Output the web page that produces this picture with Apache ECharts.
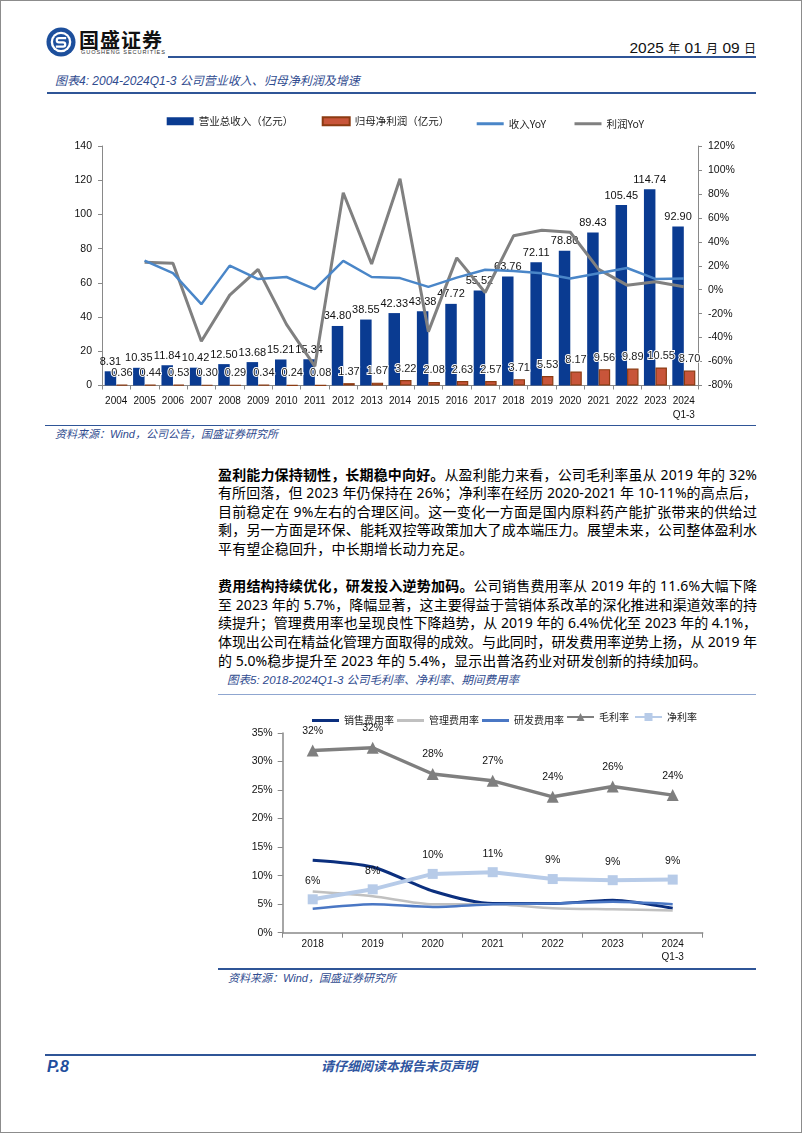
<!DOCTYPE html>
<html>
<head>
<meta charset="utf-8">
<script src="https://cdn.jsdelivr.net/npm/echarts@6/dist/echarts.min.js"></script>
<style>
  html,body{margin:0;padding:0;background:#fff;}
  #page{position:relative;width:802px;height:1133px;overflow:hidden;font-family:"Noto Sans CJK SC","Noto Sans",sans-serif;}
  .abs{position:absolute;}
  .bline{position:absolute;background:#2f5597;}
  .cap{position:absolute;font-style:italic;color:#2f4b8f;white-space:nowrap;font-family:"Liberation Sans","Noto Sans CJK SC",sans-serif;}
  .body{position:absolute;left:218px;width:539px;font-size:14px;line-height:18.6px;color:#000;font-family:"Noto Sans","Noto Sans CJK SC",sans-serif;}
  .body .ln{display:block;height:18.6px;white-space:nowrap;}
  .body b{font-weight:700;}
</style>
</head>
<body>
<div id="page">
  <div class="abs" style="left:0;top:0;width:800px;height:1131px;border:1px solid #8c8c8c;"></div>

  <!-- header -->
  <svg class="abs" style="left:46px;top:27px" width="30" height="30" viewBox="0 0 32 32">
    <circle cx="16" cy="16" r="15.5" fill="#1d4f9c"/>
    <circle cx="16" cy="16" r="11" fill="#fff"/>
    <circle cx="16" cy="16" r="8.5" fill="#1d4f9c"/>
    <path d="M21.5 11.8 H13.8 a2.3 2.3 0 0 0 0 4.6 h4.4 a2.3 2.3 0 0 1 0 4.6 H10.5" stroke="#fff" stroke-width="2.4" fill="none"/>
  </svg>
  <div class="abs" style="left:79px;top:28px;font-size:20px;line-height:24px;font-weight:700;color:#111;letter-spacing:1px;white-space:nowrap;">国盛证券</div>
  <div class="abs" style="left:81px;top:49px;font-size:5.6px;line-height:7px;color:#333;letter-spacing:0.9px;white-space:nowrap;font-family:'Liberation Sans',sans-serif;">GUOSHENG SECURITIES</div>
  <div class="bline" style="left:168px;top:56px;width:588px;height:2px;"></div>
  <div class="abs" style="right:46px;top:38px;line-height:20px;white-space:nowrap;color:#111;font-family:'Liberation Sans',sans-serif;font-size:15.5px;">2025 <span style="font-family:'Noto Sans CJK SC';font-size:12px;">年</span> 01 <span style="font-family:'Noto Sans CJK SC';font-size:12px;">月</span> 09 <span style="font-family:'Noto Sans CJK SC';font-size:12px;">日</span></div>

  <!-- chart 1 caption -->
  <div class="cap" style="left:55px;top:73px;font-size:12px;line-height:16px;">图表4:  2004-2024Q1-3 公司营业收入、归母净利润及增速</div>
  <div class="bline" style="left:47px;top:91.5px;width:709px;height:2px;"></div>
  <div id="c1" class="abs" style="left:0;top:100px;width:802px;height:322px;"></div>
  <div class="bline" style="left:45px;top:424.5px;width:711px;height:1.5px;"></div>
  <div class="cap" style="left:55px;top:427px;font-size:11px;line-height:14px;">资料来源：Wind，公司公告，国盛证券研究所</div>

  <!-- body text -->
  <div class="body" style="top:465.7px;">
    <span class="ln"><b>盈利能力保持韧性，长期稳中向好。</b>从盈利能力来看，公司毛利率虽从 2019 年的 32%</span>
    <span class="ln">有所回落，但 2023 年仍保持在 26%；净利率在经历 2020-2021 年 10-11%的高点后，</span>
    <span class="ln">目前稳定在 9%左右的合理区间。这一变化一方面是国内原料药产能扩张带来的供给过</span>
    <span class="ln">剩，另一方面是环保、能耗双控等政策加大了成本端压力。展望未来，公司整体盈利水</span>
    <span class="ln last">平有望企稳回升，中长期增长动力充足。</span>
  </div>
  <div class="body" style="top:577.3px;">
    <span class="ln"><b>费用结构持续优化，研发投入逆势加码。</b>公司销售费用率从 2019 年的 11.6%大幅下降</span>
    <span class="ln">至 2023 年的 5.7%，降幅显著，这主要得益于营销体系改革的深化推进和渠道效率的持</span>
    <span class="ln">续提升；管理费用率也呈现良性下降趋势，从 2019 年的 6.4%优化至 2023 年的 4.1%，</span>
    <span class="ln">体现出公司在精益化管理方面取得的成效。与此同时，研发费用率逆势上扬，从 2019 年</span>
    <span class="ln last">的 5.0%稳步提升至 2023 年的 5.4%，显示出普洛药业对研发创新的持续加码。</span>
  </div>

  <!-- chart 2 caption -->
  <div class="cap" style="left:227px;top:673px;font-size:11.5px;line-height:15px;">图表5:  2018-2024Q1-3 公司毛利率、净利率、期间费用率</div>
  <div class="bline" style="left:218px;top:693.5px;width:538px;height:1.5px;background:#8fa6d0;"></div>
  <div id="c2" class="abs" style="left:0;top:700px;width:802px;height:266px;"></div>
  <div class="bline" style="left:218px;top:968px;width:538px;height:1.5px;"></div>
  <div class="cap" style="left:228px;top:971px;font-size:11px;line-height:14px;">资料来源：Wind，国盛证券研究所</div>

  <!-- footer -->
  <div class="bline" style="left:45px;top:1054px;width:711px;height:2px;"></div>
  <div class="abs" style="left:47px;top:1057px;font-size:16px;line-height:20px;font-weight:700;font-style:italic;color:#1f4e9d;font-family:'Liberation Sans',sans-serif;">P.8</div>
  <div class="cap" style="left:0;width:798px;text-align:center;top:1058px;font-size:13px;line-height:17px;font-weight:600;color:#2f55a0;">请仔细阅读本报告末页声明</div>
</div>

<script>
// justify body lines by letter-spacing so each line fills the column exactly
(function(){
  var W = 539;
  document.querySelectorAll('.body').forEach(function(par){
    var lines = par.querySelectorAll('.ln'), sum = 0, n = 0;
    lines.forEach(function(ln){
      if (ln.classList.contains('last')) return;
      var len = Array.from(ln.textContent).length;
      ln.style.letterSpacing = '0px';
      var w = ln.scrollWidth;
      var r = document.createRange(); r.selectNodeContents(ln);
      w = r.getBoundingClientRect().width;
      var sp = (W - w) / (len - 1);
      ln.style.letterSpacing = sp + 'px';
      sum += sp; n++;
    });
    lines.forEach(function(ln){
      if (ln.classList.contains('last')) ln.style.letterSpacing = (n ? sum / n : 0) + 'px';
    });
  });
})();

// ---------- chart 1 data ----------
var years = ['2004','2005','2006','2007','2008','2009','2010','2011','2012','2013','2014','2015','2016','2017','2018','2019','2020','2021','2022','2023','2024\nQ1-3'];
var revenue = [8.31,10.35,11.84,10.42,12.50,13.68,15.21,15.34,34.80,38.55,42.33,43.38,47.72,55.52,63.76,72.11,78.80,89.43,105.45,114.74,92.90];
var profit = [0.36,0.44,0.53,0.30,0.29,0.34,0.24,0.08,1.37,1.67,3.22,2.08,2.63,2.57,3.71,5.53,8.17,9.56,9.89,10.55,8.70];
var revenueYoY = [null,24.2,13.8,-12.1,20.1,8.9,10.6,0.4,24.0,10.6,9.7,2.4,10.1,16.7,15.6,13.7,9.3,13.7,18.1,9.0,9.3];
var profitYoY = [null,23.0,22.0,-43.0,-4.5,17.0,-29.0,-64.0,81.0,21.5,92.6,-35.0,26.6,-2.3,45.0,49.7,48.0,17.0,3.8,6.7,2.4];
var leftTicks = {min:0, max:140, interval:20};
var rightTicks = {min:-80, max:120, interval:20};

// ---------- chart 2 data ----------
var years2 = ['2018','2019','2020','2021','2022','2023','2024\nQ1-3'];
var salesRate = [12.7,11.5,7.3,5.1,5.1,5.7,4.3];
var adminRate = [7.2,6.4,5.0,5.0,4.3,4.1,3.9];
var rdRate = [4.2,5.0,4.5,5.0,5.1,5.4,5.0];
var grossMargin = [31.9,32.4,27.8,26.6,23.8,25.6,24.1];
var netMargin = [5.85,7.6,10.3,10.6,9.4,9.2,9.3];
var pctTicks = {min:0, max:35, interval:5};

var NUM = '"Liberation Sans", Arial, sans-serif';
var CJK = '"Noto Sans CJK SC", sans-serif';
var axisGray = '#898989';

var c1 = echarts.init(document.getElementById('c1'), null, {renderer:'canvas'});
function lg(name, left, opt){
  return Object.assign({
    data:[name], left:left, top:11, itemWidth:27, itemHeight:8, icon:'rect',
    textStyle:{fontSize:10.5, color:'#222', fontFamily:CJK}
  }, opt||{});
}
c1.setOption({
  animation:false,
  legend:[
    lg('营业总收入（亿元）', 161.7),
    lg('归母净利润（亿元）', 316.7),
    lg('收入YoY', 471.7, {itemHeight:3, top:13.5}),
    lg('利润YoY', 569.5, {itemHeight:3, top:13.5})
  ],
  grid:{left:102, top:46, width:596, height:243.6},
  xAxis:{
    type:'category', data:years,
    axisLine:{lineStyle:{color:axisGray, width:1}},
    axisTick:{show:true, length:4, lineStyle:{color:axisGray}},
    axisLabel:{interval:0, fontSize:10, color:'#111', margin:8.5, lineHeight:14, fontFamily:NUM}
  },
  yAxis:[
    {type:'value', min:leftTicks.min, max:leftTicks.max, interval:leftTicks.interval,
     axisLine:{show:true, lineStyle:{color:axisGray}}, axisTick:{show:true, length:4, lineStyle:{color:axisGray}},
     splitLine:{show:false}, axisLabel:{fontSize:10.5, color:'#111', margin:10, fontFamily:NUM}},
    {type:'value', position:'right', min:rightTicks.min, max:rightTicks.max, interval:rightTicks.interval,
     axisLine:{show:true, lineStyle:{color:axisGray}}, axisTick:{show:true, length:4, lineStyle:{color:axisGray}},
     splitLine:{show:false}, axisLabel:{fontSize:10.5, color:'#111', margin:10, fontFamily:NUM, formatter:'{value}%'}}
  ],
  series:[
    {name:'营业总收入（亿元）', type:'bar', data:revenue, barGap:'0%', barCategoryGap:'19%',
     itemStyle:{color:'#0a3b91'},
     label:{show:true, position:'top', distance:4, fontSize:11, color:'#111', fontFamily:NUM,
            formatter:function(p){return p.value.toFixed(2);}}},
    {name:'归母净利润（亿元）', type:'bar', data:profit,
     itemStyle:{color:'#c8553a', borderColor:'#8c3b12', borderWidth:1.2},
     label:{show:true, position:'top', distance:6, fontSize:11, color:'#222', fontFamily:NUM,
            textBorderColor:'#fff', textBorderWidth:2,
            formatter:function(p){return p.value.toFixed(2);}}},
    {name:'收入YoY', type:'line', yAxisIndex:1, data:revenueYoY, symbol:'none', z:5,
     itemStyle:{color:'#4a86c8'}, lineStyle:{color:'#4a86c8', width:2.5}},
    {name:'利润YoY', type:'line', yAxisIndex:1, data:profitYoY, symbol:'none', z:4,
     itemStyle:{color:'#808080'}, lineStyle:{color:'#808080', width:3}}
  ]
});

var c2 = echarts.init(document.getElementById('c2'), null, {renderer:'canvas'});
function lg2(name, left, opt){
  return Object.assign({data:[name], left:left, top:7, itemWidth:27, itemHeight:10,
          textStyle:{fontSize:10, color:'#222', fontFamily:CJK}}, opt||{});
}
var pctLabel = {show:true, position:'top', distance:8, fontSize:10.5, color:'#111', fontFamily:NUM,
                formatter:function(p){return Math.round(p.value)+'%';}};
c2.setOption({
  animation:false,
  legend:[
    lg2('销售费用率',307,{icon:'rect', itemHeight:3, top:10.5}),
    lg2('管理费用率',392,{icon:'rect', itemHeight:3, top:10.5}),
    lg2('研发费用率',477,{icon:'rect', itemHeight:3, top:10.5}),
    lg2('毛利率',561),
    lg2('净利率',629)
  ],
  grid:{left:282.7, top:32.9, width:420, height:199.8},
  xAxis:{
    type:'category', data:years2,
    axisLine:{lineStyle:{color:axisGray, width:1.5}},
    axisTick:{show:true, length:5, lineStyle:{color:axisGray}},
    axisLabel:{interval:0, fontSize:10, color:'#111', margin:5.5, lineHeight:12.5, fontFamily:NUM}
  },
  yAxis:{type:'value', min:pctTicks.min, max:pctTicks.max, interval:pctTicks.interval,
    axisLine:{show:true, lineStyle:{color:axisGray, width:1.5}}, axisTick:{show:true, length:5, lineStyle:{color:axisGray}},
    splitLine:{show:false}, axisLabel:{fontSize:10.5, color:'#111', margin:10, fontFamily:NUM, formatter:'{value}%'}},
  series:[
    {name:'销售费用率', type:'line', data:salesRate, symbol:'none', smooth:0.25,
     itemStyle:{color:'#0b2f7e'}, lineStyle:{color:'#0b2f7e', width:3}},
    {name:'管理费用率', type:'line', data:adminRate, symbol:'none', smooth:0.25,
     itemStyle:{color:'#c0c0c0'}, lineStyle:{color:'#c0c0c0', width:2.5}},
    {name:'研发费用率', type:'line', data:rdRate, symbol:'none', smooth:0.25,
     itemStyle:{color:'#4a77c4'}, lineStyle:{color:'#4a77c4', width:2.5}},
    {name:'毛利率', type:'line', data:grossMargin, symbol:'triangle', symbolSize:12,
     itemStyle:{color:'#7f7f7f'}, lineStyle:{color:'#7f7f7f', width:3.5}, label:pctLabel},
    {name:'净利率', type:'line', data:netMargin, symbol:'rect', symbolSize:10,
     itemStyle:{color:'#b7cbe8'}, lineStyle:{color:'#b7cbe8', width:4}, label:pctLabel}
  ]
});
</script>
</body>
</html>
